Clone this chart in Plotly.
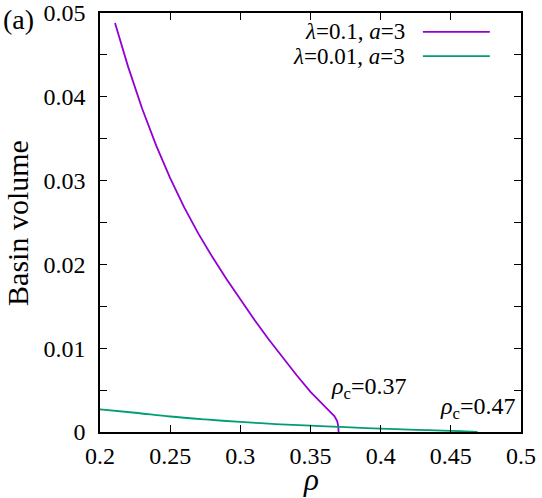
import plotly.graph_objects as go

# Data
rho_a = [0.2107, 0.22, 0.23, 0.24, 0.25, 0.26, 0.27, 0.28, 0.29, 0.30, 0.31, 0.32, 0.33,
         0.34, 0.35, 0.36, 0.364, 0.367, 0.369, 0.3698, 0.3700, 0.3700]
vol_a = [0.0488, 0.0436, 0.0386, 0.0342, 0.0303, 0.0268, 0.0237, 0.0209, 0.0183, 0.0158,
         0.0134, 0.0111, 0.0089, 0.0068, 0.0048, 0.0030, 0.0024, 0.0019, 0.0013, 0.0007,
         0.0003, 0.0]

rho_b = [0.20, 0.225, 0.25, 0.275, 0.30, 0.325, 0.35, 0.375, 0.40, 0.425, 0.45, 0.46, 0.469]
vol_b = [0.0027, 0.0023, 0.00185, 0.0015, 0.0012, 0.00095, 0.00075, 0.00057, 0.0004,
         0.00026, 0.00014, 0.00007, 0.0]

names = ["<i>λ</i>=0.1, <i>a</i>=3", "<i>λ</i>=0.01, <i>a</i>=3"]
colors = ["#9400D3", "#009E73"]

x_ticks = [0.2, 0.25, 0.3, 0.35, 0.4, 0.45, 0.5]
x_ticktext = ["0.2", "0.25", "0.3", "0.35", "0.4", "0.45", "0.5"]
y_ticks = [0, 0.005, 0.01, 0.015, 0.02, 0.025, 0.03, 0.035, 0.04, 0.045, 0.05]
y_ticktext = ["0", " ", "0.01", " ", "0.02", " ", "0.03", " ", "0.04", " ", "0.05"]

FONT = "Liberation Serif, Times New Roman, DejaVu Serif, serif"

fig = go.Figure()
fig.add_trace(go.Scatter(x=rho_a, y=vol_a, mode="lines", line=dict(color=colors[0], width=1.8),
                         showlegend=False))
fig.add_trace(go.Scatter(x=rho_b, y=vol_b, mode="lines", line=dict(color=colors[1], width=1.8),
                         line_shape="spline", showlegend=False))

axis_common = dict(showgrid=False, zeroline=False, showline=True, linecolor="black", linewidth=1.5,
                   mirror="ticks", ticks="inside", ticklen=7, tickcolor="black", tickwidth=1,
                   automargin=False,
                   tickfont=dict(family=FONT, size=24, color="black"))

fig.update_xaxes(range=[0.2, 0.5], tickvals=x_ticks, ticktext=x_ticktext,
                 ticklabelstandoff=1, **axis_common)
fig.update_yaxes(range=[0, 0.05], tickvals=y_ticks, ticktext=y_ticktext,
                 ticklabelstandoff=8, **axis_common)

ann = []
ann.append(dict(text="(a)", x=-0.235, y=0.985, xref="paper", yref="paper", xanchor="left",
                yanchor="middle", showarrow=False, font=dict(family=FONT, size=28, color="black")))
ann.append(dict(text="Basin volume", x=-0.1948, y=0.499, xref="paper", yref="paper",
                xanchor="center", yanchor="middle", textangle=-90, showarrow=False,
                font=dict(family=FONT, size=30, color="black")))
ann.append(dict(text="<i>ρ</i>", x=0.35, y=-0.113, xref="x", yref="paper",
                xanchor="center", yanchor="middle", showarrow=False,
                font=dict(family=FONT, size=31, color="black")))
ann.append(dict(text="<i>ρ</i><sub>c</sub>=0.37", x=0.3629, y=0.0052, xanchor="left", yanchor="middle",
                showarrow=False, font=dict(family=FONT, size=24, color="black")))
ann.append(dict(text="<i>ρ</i><sub>c</sub>=0.47", x=0.4407, y=0.0029, xanchor="left", yanchor="middle",
                showarrow=False, font=dict(family=FONT, size=24, color="black")))

leg_y = [0.955, 0.897]
shapes = []
for i in range(2):
    ann.append(dict(text=names[i], x=0.729, y=leg_y[i], xref="paper", yref="paper", xanchor="right",
                    yanchor="middle", showarrow=False, font=dict(family=FONT, size=23, color="black")))
    shapes.append(dict(type="line", xref="paper", yref="paper", x0=0.767, x1=0.926,
                       y0=leg_y[i], y1=leg_y[i], line=dict(color=colors[i], width=1.8)))

fig.update_layout(width=542, height=498, margin=dict(l=100, r=21, t=13, b=66),
                  paper_bgcolor="white", plot_bgcolor="white", annotations=ann, shapes=shapes,
                  font=dict(family=FONT))

fig.write_html("out.html")
